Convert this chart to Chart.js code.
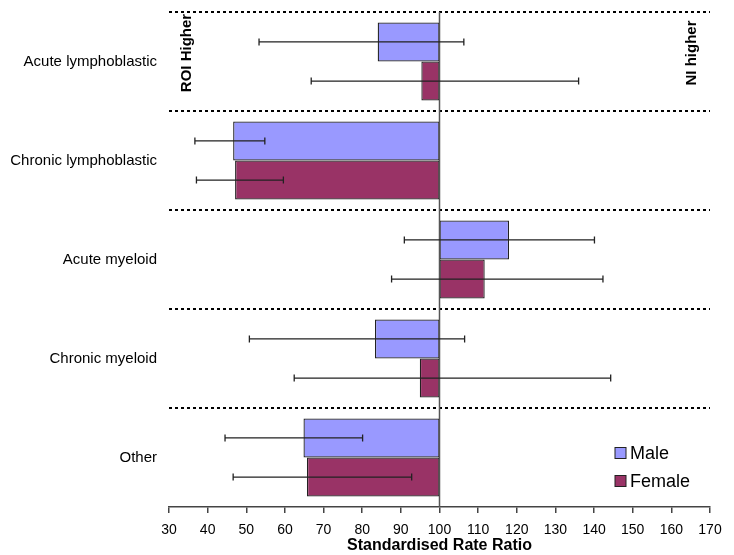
<!DOCTYPE html>
<html>
<head>
<meta charset="utf-8">
<script src="https://cdn.jsdelivr.net/npm/chart.js@4"></script>
<style>
  html, body { margin: 0; padding: 0; background: #fff; }
  #wrap { width: 734px; height: 555px; }
</style>
</head>
<body>
<div id="wrap"><canvas id="chart"></canvas></div>
<script>
// categories and values
const categories = ["Acute lymphoblastic", "Chronic lymphoblastic", "Acute myeloid", "Chronic myeloid", "Other"];
const maleRatio = [84.0, 46.6, 118.0, 83.3, 64.8];
const maleLower = [53.3, 36.7, 90.9, 50.8, 44.5];
const maleUpper = [106.3, 54.8, 140.1, 106.5, 80.1];
const femaleRatio = [95.3, 47.1, 111.7, 94.9, 65.7];
const femaleLower = [66.8, 37.1, 87.6, 62.4, 46.6];
const femaleUpper = [136.0, 59.6, 142.3, 144.3, 92.8];
const xTicks = [30, 40, 50, 60, 70, 80, 90, 100, 110, 120, 130, 140, 150, 160, 170];
const baseline = 100;

const errLow = [maleLower, femaleLower];
const errHigh = [maleUpper, femaleUpper];

const plain = "'Liberation Sans', Arial, sans-serif";

// floating bars from the 100 line out to each ratio
const toBars = (arr) => arr.map((v) => [baseline, v]);

const extras = {
  id: "extras",
  afterDatasetsDraw(chart) {
    const ctx = chart.ctx;
    const x = chart.scales.x;
    const area = chart.chartArea;
    ctx.save();

    // reference line at 100
    const x100 = x.getPixelForValue(baseline);
    ctx.strokeStyle = "#555";
    ctx.lineWidth = 1.5;
    ctx.beginPath();
    ctx.moveTo(x100, area.top);
    ctx.lineTo(x100, area.bottom);
    ctx.stroke();

    // error bars
    chart.data.datasets.forEach((ds, i) => {
      const meta = chart.getDatasetMeta(i);
      meta.data.forEach((bar, j) => {
        const y = bar.y;
        const x1 = x.getPixelForValue(errLow[i][j]);
        const x2 = x.getPixelForValue(errHigh[i][j]);
        ctx.strokeStyle = "#222";
        ctx.lineWidth = 1.3;
        ctx.beginPath();
        ctx.moveTo(x1, y);
        ctx.lineTo(x2, y);
        ctx.moveTo(x1, y - 3.5);
        ctx.lineTo(x1, y + 3.5);
        ctx.moveTo(x2, y - 3.5);
        ctx.lineTo(x2, y + 3.5);
        ctx.stroke();
      });
    });

    // side notes
    ctx.fillStyle = "#000";
    ctx.font = "bold 15px " + plain;
    ctx.textAlign = "center";
    ctx.textBaseline = "middle";
    [["ROI Higher", 187], ["NI higher", 692]].forEach(([t, px]) => {
      ctx.save();
      ctx.translate(px, 53);
      ctx.rotate(-Math.PI / 2);
      ctx.fillText(t, 0, 0);
      ctx.restore();
    });

    // legend
    ctx.font = "18px " + plain;
    ctx.textAlign = "left";
    chart.data.datasets.forEach((ds, i) => {
      const ly = 453 + i * 28;
      ctx.fillStyle = ds.backgroundColor;
      ctx.fillRect(615, ly - 5.5, 11, 11);
      ctx.strokeStyle = "#222";
      ctx.lineWidth = 1;
      ctx.strokeRect(615, ly - 5.5, 11, 11);
      ctx.fillStyle = "#000";
      ctx.fillText(ds.label, 630, ly + 1);
    });
    ctx.restore();
  },
};

new Chart(document.getElementById("chart"), {
  type: "bar",
  data: {
    labels: categories,
    datasets: [
      {
        label: "Male",
        data: toBars(maleRatio),
        backgroundColor: "#9999FF",
        borderColor: "#222",
        borderWidth: 1.3,
        borderSkipped: false,
        categoryPercentage: 0.79,
        barPercentage: 1,
      },
      {
        label: "Female",
        data: toBars(femaleRatio),
        backgroundColor: "#993366",
        borderColor: "#222",
        borderWidth: 1.3,
        borderSkipped: false,
        categoryPercentage: 0.79,
        barPercentage: 1,
      },
    ],
  },
  options: {
    indexAxis: "y",
    responsive: true,
    maintainAspectRatio: false,
    animation: false,
    layout: { padding: { top: 12, right: 24, left: 0, bottom: 0 } },
    plugins: {
      legend: { display: false },
      tooltip: { enabled: false },
    },
    scales: {
      x: {
        min: 30,
        max: 170,
        afterBuildTicks: (scale) => {
          scale.ticks = xTicks.map((v) => ({ value: v }));
        },
        afterFit: (scale) => {
          scale.height = 48;
        },
        border: { display: true, color: "#444", width: 1.5 },
        grid: { drawOnChartArea: false, drawTicks: true, tickLength: 6, color: "#444", lineWidth: 1.5 },
        ticks: {
          color: "#000",
          padding: 9,
          maxRotation: 0,
          font: { family: plain, size: 14 },
        },
        title: {
          display: true,
          text: "Standardised Rate Ratio",
          color: "#000",
          padding: { top: 0, bottom: 0 },
          font: { family: plain, size: 16, weight: "bold" },
        },
      },
      y: {
        afterFit: (scale) => {
          scale.width = 169;
          scale.paddingTop = 0;
          scale.paddingBottom = 0;
        },
        grid: {
          offset: true,
          drawTicks: false,
          // the extra bottom separator has no tick; the x axis stands there
          color: (c) => (c.tick ? "#000" : "rgba(0,0,0,0)"),
          lineWidth: 2,
        },
        border: { display: false, dash: [3, 3] },
        ticks: {
          color: "#000",
          padding: 12,
          font: { family: plain, size: 15 },
        },
      },
    },
  },
  plugins: [extras],
});
</script>
</body>
</html>
